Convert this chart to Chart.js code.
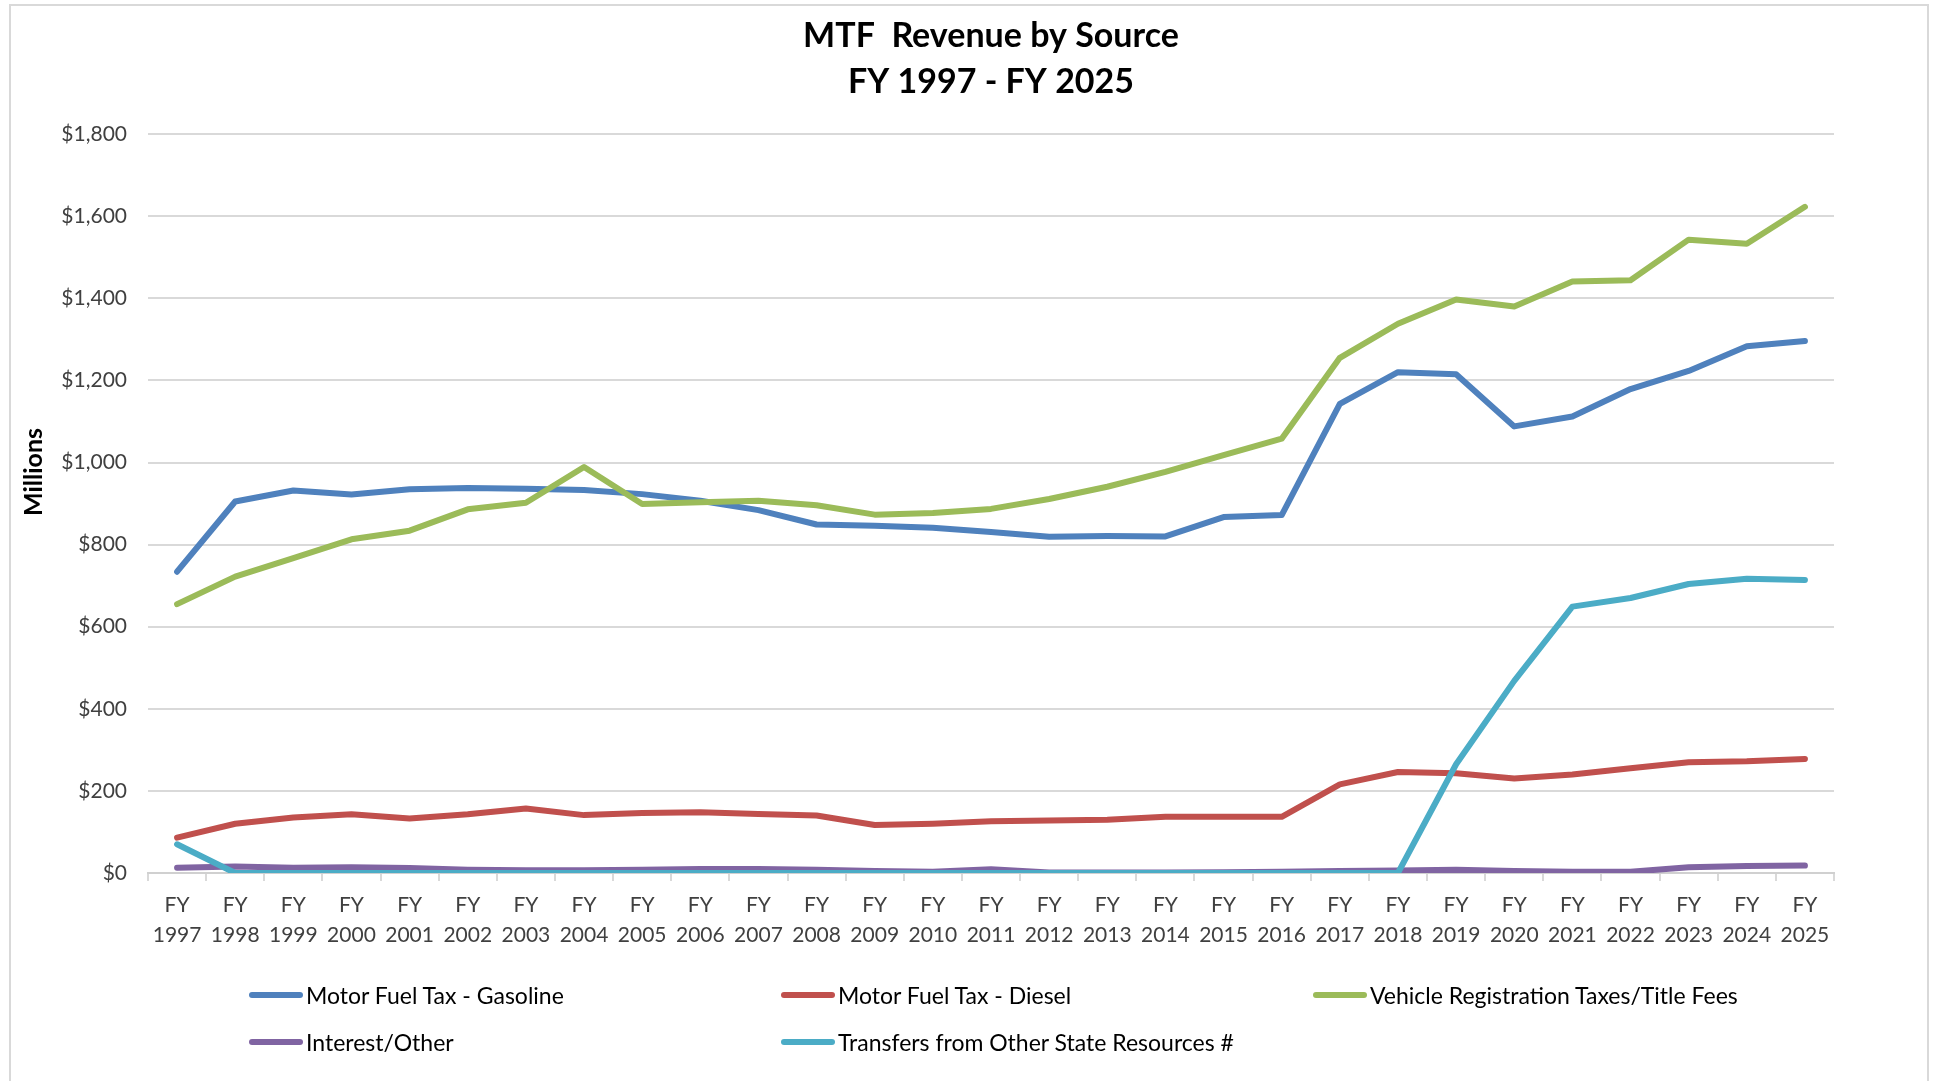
<!DOCTYPE html>
<html>
<head>
<meta charset="utf-8">
<title>MTF Revenue by Source</title>
<script src="https://cdn.jsdelivr.net/npm/chart.js@4.4.0/dist/chart.umd.min.js"></script>
<style>
    body { margin: 0; background: #fff; font-family: Lato, "Open Sans", sans-serif; }
    #frame { position: absolute; left: 9px; top: 4px; width: 1920px; height: 1100px; border: 2px solid #d9d9d9; box-sizing: border-box; }
    #wrap { position: absolute; left: 0; top: 0; width: 1939px; height: 1081px; }
    #legend { position: absolute; left: 249px; top: 971px; display: grid; grid-template-columns: 532px 532px 532px; }
    .item { display: flex; align-items: center; height: 47px; font-size: 23px; color: #000; white-space: nowrap; }
    .swatch { width: 54px; height: 6px; border-radius: 3px; margin-right: 3px; }
</style>
</head>
<body>
<div id="frame"></div>
<div id="wrap"><canvas id="mtfChart" width="1939" height="1081"></canvas></div>
<div id="legend"></div>

<script>
// values in $ millions
const years = ['1997', '1998', '1999', '2000', '2001', '2002', '2003', '2004', '2005', '2006',
    '2007', '2008', '2009', '2010', '2011', '2012', '2013', '2014', '2015', '2016',
    '2017', '2018', '2019', '2020', '2021', '2022', '2023', '2024', '2025'];

const gasoline = [734, 905, 932, 922, 935, 938, 936, 933, 923, 907,
    884, 849, 846, 841, 831, 819, 821, 820, 867, 872,
    1143, 1220, 1215, 1088, 1112, 1179, 1223, 1283, 1296];

const diesel = [86, 120, 135, 143, 133, 143, 157, 141, 146, 148,
    144, 140, 117, 120, 126, 128, 130, 137, 137, 137,
    216, 246, 243, 230, 240, 255, 270, 272, 278];

const vehicleReg = [655, 722, 767, 813, 834, 886, 902, 989, 899, 903,
    907, 896, 873, 877, 887, 911, 941, 977, 1018, 1058,
    1255, 1338, 1397, 1380, 1441, 1444, 1543, 1533, 1623];

const interestOther = [13, 16, 13, 14, 12, 8, 7, 7, 8, 10,
    10, 8, 5, 3, 9, 1, 1, 1, 2, 3,
    5, 6, 8, 5, 3, 3, 14, 17, 18];

const transfers = [70, 0, 0, 0, 0, 0, 0, 0, 0, 0,
    0, 0, 0, 0, 0, 0, 0, 0, 0, 0,
    0, 0, 265, 468, 649, 670, 704, 717, 714];

const yTicks = [0, 200, 400, 600, 800, 1000, 1200, 1400, 1600, 1800];

const series = [
    { label: 'Motor Fuel Tax - Gasoline', data: gasoline, color: '#4f81bd' },
    { label: 'Motor Fuel Tax - Diesel', data: diesel, color: '#c0504d' },
    { label: 'Vehicle Registration Taxes/Title Fees', data: vehicleReg, color: '#9bbb59' },
    { label: 'Interest/Other', data: interestOther, color: '#8064a2' },
    { label: 'Transfers from Other State Resources #', data: transfers, color: '#4bacc6' }
];

const FONT = 'Lato, "Open Sans", sans-serif';

// y axis title drawn by hand so it can sit where the original has it
const axisTitle = {
    id: 'axisTitle',
    afterDraw(chart) {
        const ctx = chart.ctx;
        ctx.save();
        ctx.translate(34, 472);
        ctx.rotate(-Math.PI / 2);
        ctx.font = 'bold 25px ' + FONT;
        ctx.fillStyle = '#000';
        ctx.textAlign = 'center';
        ctx.textBaseline = 'middle';
        ctx.fillText('Millions', 0, 0);
        ctx.restore();
    }
};

const ctx = document.getElementById('mtfChart').getContext('2d');

const chart = new Chart(ctx, {
    type: 'line',
    data: {
        labels: years.map(y => ['FY', y]),
        datasets: series.map((s, i) => ({
            label: s.label,
            data: s.data,
            borderColor: s.color,
            backgroundColor: s.color,
            borderWidth: 6,
            borderCapStyle: 'round',
            borderJoinStyle: 'round',
            pointRadius: 0,
            tension: 0,
            fill: false,
            order: series.length - i // later series on top, like Excel
        }))
    },
    options: {
        responsive: false,
        animation: false,
        layout: { padding: { left: 0, right: 105, top: 0, bottom: 118 } },
        scales: {
            x: {
                offset: true,
                afterFit: (scale) => { scale.height = 90; },
                grid: {
                    offset: true,
                    drawOnChartArea: false,
                    drawTicks: true,
                    tickLength: 8,
                    color: '#d9d9d9',
                    lineWidth: 2
                },
                border: { display: true, color: '#d0d0d0', width: 2 },
                ticks: {
                    color: '#404040',
                    font: { family: FONT, size: 21, lineHeight: 1.43 },
                    padding: 9,
                    maxRotation: 0,
                    autoSkip: false
                }
            },
            y: {
                min: 0,
                max: 1800,
                afterFit: (scale) => { scale.width = 148; },
                afterBuildTicks: (scale) => { scale.ticks = yTicks.map(v => ({ value: v })); },
                grid: { color: '#d9d9d9', lineWidth: 2, drawTicks: false },
                border: { display: false },
                ticks: {
                    color: '#404040',
                    font: { family: FONT, size: 21 },
                    padding: 21,
                    callback: (v) => '$' + v.toLocaleString('en-US')
                }
            }
        },
        plugins: {
            legend: { display: false },
            tooltip: { enabled: false },
            title: {
                display: true,
                fullSize: false,
                text: ['MTF  Revenue by Source', 'FY 1997 - FY 2025'],
                color: '#000',
                font: { family: FONT, size: 34, weight: 'bold', lineHeight: 1.355 },
                padding: { top: 13, bottom: 29 }
            }
        }
    },
    plugins: [axisTitle]
});

// legend laid out in three fixed columns, built from the chart's datasets
const legendEl = document.getElementById('legend');
chart.data.datasets.forEach(ds => {
    const item = document.createElement('div');
    item.className = 'item';
    const sw = document.createElement('span');
    sw.className = 'swatch';
    sw.style.background = ds.borderColor;
    const txt = document.createElement('span');
    txt.textContent = ds.label;
    item.appendChild(sw);
    item.appendChild(txt);
    legendEl.appendChild(item);
});
</script>
</body>
</html>
